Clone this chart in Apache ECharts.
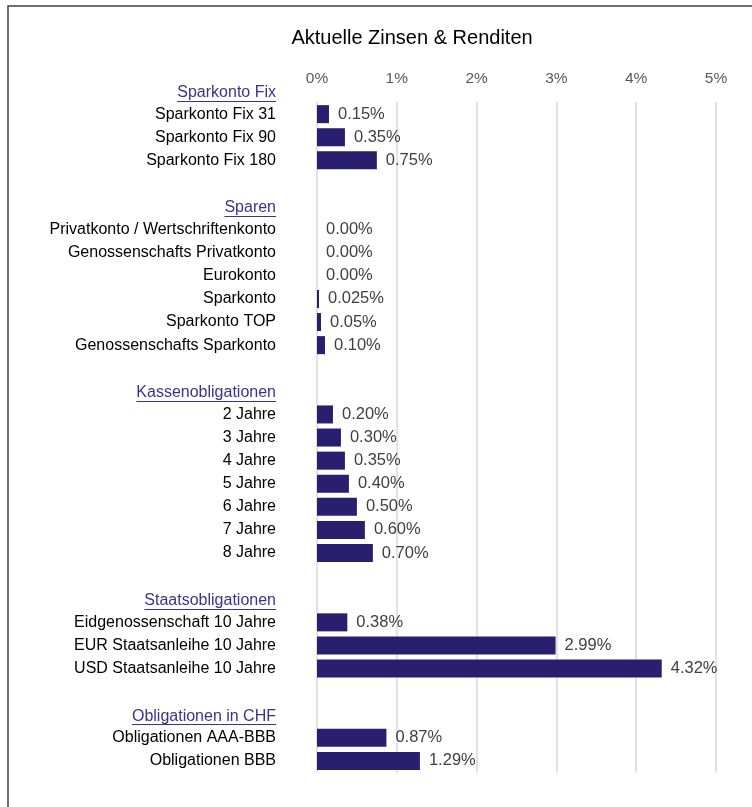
<!DOCTYPE html>
<html>
<head>
<meta charset="utf-8">
<script src="https://cdn.jsdelivr.net/npm/echarts@6/dist/echarts.min.js"></script>
<style>html,body{margin:0;padding:0;background:#fff}#c{width:752px;height:807px}</style>
</head>
<body>
<div id="c"></div>
<script>
const titleText = 'Aktuelle Zinsen & Renditen';
const headers = ['Sparkonto Fix', 'Sparen', 'Kassenobligationen', 'Staatsobligationen', 'Obligationen in CHF'];
const categories = [
  'Sparkonto Fix', 'Sparkonto Fix 31', 'Sparkonto Fix 90', 'Sparkonto Fix 180', '',
  'Sparen', 'Privatkonto / Wertschriftenkonto', 'Genossenschafts Privatkonto', 'Eurokonto', 'Sparkonto', 'Sparkonto TOP', 'Genossenschafts Sparkonto', '',
  'Kassenobligationen', '2 Jahre', '3 Jahre', '4 Jahre', '5 Jahre', '6 Jahre', '7 Jahre', '8 Jahre', '',
  'Staatsobligationen', 'Eidgenossenschaft 10 Jahre', 'EUR Staatsanleihe 10 Jahre', 'USD Staatsanleihe 10 Jahre', '',
  'Obligationen in CHF', 'Obligationen AAA-BBB', 'Obligationen BBB'
];
const values = [
  null, 0.15, 0.35, 0.75, null,
  null, 0, 0, 0, 0.025, 0.05, 0.10, null,
  null, 0.20, 0.30, 0.35, 0.40, 0.50, 0.60, 0.70, null,
  null, 0.38, 2.99, 4.32, null,
  null, 0.87, 1.29
];
const axisMin = 0, axisMax = 5, axisStep = 1;

const FONT = '"Liberation Sans", Arial, sans-serif';
const headerColor = '#3B3290';
const barColor = '#2A1E6E';
const labelMargin = 41;
const catFontSize = 16;

function fmtPct(v) {
  let s = v.toFixed(2);
  if (Math.abs(parseFloat(s) - v) > 1e-9) s = v.toFixed(3);
  return s + '%';
}

const chart = echarts.init(document.getElementById('c'), null, {renderer: 'canvas'});
const option = {
  animation: false,
  backgroundColor: '#fff',
  title: {
    text: titleText, left: 407, top: 23, textAlign: 'center',
    textStyle: {fontFamily: FONT, fontSize: 20, fontWeight: 'normal', color: '#000'}
  },
  grid: [
    {left: 317, right: 36, top: 79.5, bottom: 34.5},
    {left: 317, right: 36, top: 102, bottom: 34.5}
  ],
  xAxis: [
    {gridIndex: 0, type: 'value', min: axisMin, max: axisMax, interval: axisStep, show: false},
    {gridIndex: 1, type: 'value', position: 'top', min: axisMin, max: axisMax, interval: axisStep,
     axisLine: {show: false}, axisTick: {show: false},
     splitLine: {show: true, lineStyle: {color: '#d9d9d9', width: 1.5}},
     axisLabel: {margin: 15, formatter: '{value}%', fontFamily: FONT, fontSize: 15.5, color: '#595959'}}
  ],
  yAxis: [
    {gridIndex: 0, type: 'category', data: categories, inverse: true,
     axisLine: {show: false}, axisTick: {show: false}, splitLine: {show: false},
     axisLabel: {
       margin: labelMargin, interval: 0,
       formatter: function (v) { return headers.indexOf(v) >= 0 ? '{h|' + v + '}' : '{n|' + v + '}'; },
       rich: {
         h: {fontFamily: FONT, fontSize: catFontSize, color: headerColor, padding: [3, 0, 0, 0]},
         n: {fontFamily: FONT, fontSize: catFontSize, color: '#000'}
       }
     }},
    {gridIndex: 1, type: 'value', show: false, min: 0, max: 1}
  ],
  series: [{
    type: 'bar', xAxisIndex: 0, yAxisIndex: 0,
    data: values,
    barCategoryGap: '22%',
    itemStyle: {color: barColor},
    label: {
      show: true, position: 'right', distance: 9,
      fontFamily: FONT, fontSize: 16.5, color: '#404040',
      formatter: function (p) { return p.value == null ? '' : fmtPct(p.value); }
    }
  }]
};
chart.setOption(option);

// underlines for the group headers, positioned through the axes
const ctx = document.createElement('canvas').getContext('2d');
ctx.font = catFontSize + 'px ' + FONT;
const x0 = chart.convertToPixel({xAxisIndex: 0}, 0);
const graphics = [{
  type: 'rect', shape: {x: 8, y: 6, width: 746, height: 820},
  style: {fill: 'none', stroke: '#404040', lineWidth: 1.5}, z: 100
}];
categories.forEach(function (c, i) {
  if (headers.indexOf(c) < 0) return;
  const y = chart.convertToPixel({yAxisIndex: 0}, i);
  const w = ctx.measureText(c).width;
  const xr = x0 - labelMargin;
  const yl = Math.round(y + 9.5) + 0.5;
  graphics.push({
    type: 'line', shape: {x1: xr - w, y1: yl, x2: xr, y2: yl},
    style: {stroke: headerColor, lineWidth: 1}, z: 100
  });
});
chart.setOption({graphic: graphics});
</script>
</body>
</html>
